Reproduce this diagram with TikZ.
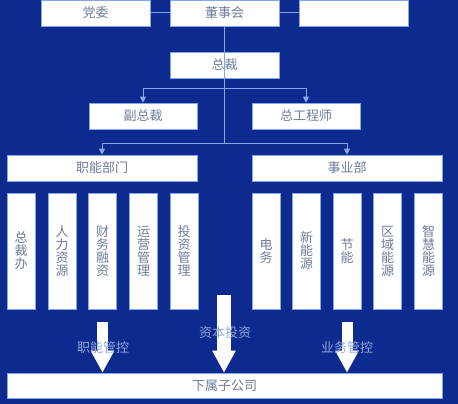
\documentclass[tikz,border=0pt]{standalone}
\usepackage{fontspec}
\setmainfont{Noto Sans CJK SC}
\usetikzlibrary{arrows.meta}
\definecolor{bg}{HTML}{0D2A8F}
\definecolor{ln}{HTML}{86A6EC}
\definecolor{tx}{HTML}{6E7C9A}
\definecolor{lb}{HTML}{8FA8E0}
\tikzset{
  box/.style={draw=ln, line width=0.6pt, fill=white, text=tx, inner sep=0pt, font=\fontsize{13}{13}\selectfont},
  vbox/.style={box, align=center, font=\fontsize{13}{13}\selectfont},
  conn/.style={draw=ln, line width=1pt},
  arr/.style={conn, -{Triangle[width=6pt,length=6pt]}},
  big/.style={draw=white, line width=#1, -{Triangle[width=22pt,length=22pt]}},
  lab/.style={text=lb, font=\fontsize{13}{13}\selectfont},
}
\begin{document}
\begin{tikzpicture}[x=1pt,y=-1pt]
\fill[bg] (0,0) rectangle (458,404);
\useasboundingbox (0,0) rectangle (458,404);
% top row
\node[box, minimum width=109pt, minimum height=26pt] (dw) at (95.5,13) {党委};
\node[box, minimum width=109pt, minimum height=26pt] (dsh) at (224.5,13) {董事会};
\node[box, minimum width=109pt, minimum height=26pt] (jsh) at (353.5,13) {};
\node[box, minimum width=109pt, minimum height=26pt] (zc) at (224.5,65) {总裁};
\node[box, minimum width=108pt, minimum height=26pt] (fzc) at (143,116) {副总裁};
\node[box, minimum width=108pt, minimum height=26pt] (zgcs) at (306,116) {总工程师};
\node[box, minimum width=190pt, minimum height=26pt] (zn) at (102,168) {职能部门};
\node[box, minimum width=190pt, minimum height=26pt] (sy) at (347,168) {事业部};
% vertical boxes
\foreach \n/\x/\t in {a/21/总\\裁\\办, b/62/人\\力\\资\\源, c/102.5/财\\务\\融\\资, d/143.5/运\\营\\管\\理, e/184/投\\资\\管\\理,
  f/266/电\\务, g/306.5/新\\能\\源, h/347/节\\能, i/387.5/区\\域\\能\\源, j/428.5/智\\慧\\能\\源}{
  \node[vbox, minimum width=28pt, minimum height=116pt] (\n) at (\x,251) {\t};
}
\node[box, minimum width=435pt, minimum height=25pt] (xs) at (224.5,385.5) {下属子公司};
% connectors
\draw[conn] (dw.east) -- (dsh.west);
\draw[conn] (dsh.east) -- (jsh.west);
\coordinate (b1) at (224.5,89);
\coordinate (b2) at (224.5,143);
\draw[conn] (dsh.south) -- (b2);
\draw[arr] (b1) -| (fzc.north);
\draw[arr] (b1) -| (zgcs.north);
\draw[arr] (b2) -| (zn.north);
\draw[arr] (b2) -| (sy.north);
% big arrows
\coordinate (t1) at (102.5,322);
\coordinate (t2) at (224,295);
\coordinate (t3) at (347,322);
\draw[big=11pt] (t1) -- (t1 |- xs.north);
\draw[big=14pt] (t2) -- (t2 |- xs.north);
\draw[big=11pt] (t3) -- (t3 |- xs.north);
\node[lab] (l1) at (103,348) {职能管控};
\node[lab] (l2) at (225,333) {资本投资};
\node[lab] (l3) at (347,348) {业务管控};
\end{tikzpicture}
\end{document}
